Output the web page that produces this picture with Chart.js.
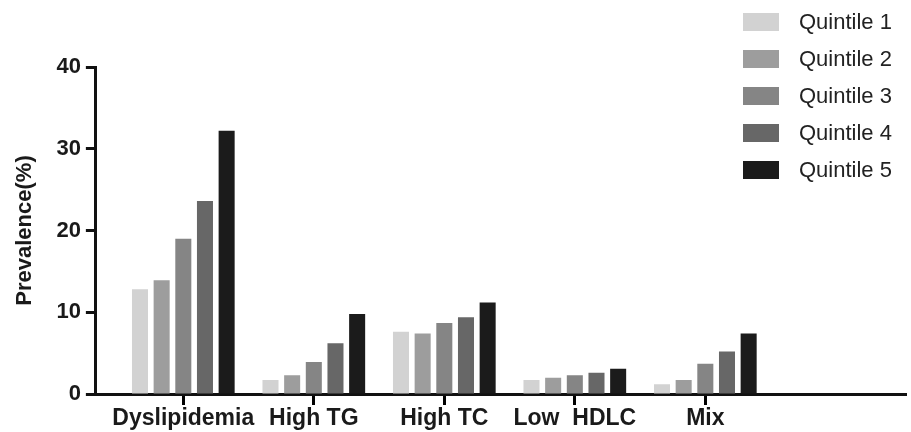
<!DOCTYPE html>
<html lang="en">
<head>
    <meta charset="UTF-8">
    <title>Prevalence by Quintile</title>
    <script src="https://cdn.jsdelivr.net/npm/chart.js@4.4.1/dist/chart.umd.min.js"></script>
    <style>
        * {
            margin: 0;
            padding: 0;
            box-sizing: border-box;
        }

        body {
            background: #fff;
            font-family: 'Liberation Sans', Arial, sans-serif;
        }

        .wrap {
            position: relative;
            width: 911px;
            height: 432px;
        }

        .legend {
            position: absolute;
            left: 743px;
            top: 3px;
        }

        .legend-item {
            display: flex;
            align-items: center;
            height: 37px;
        }

        .legend-box {
            width: 36px;
            height: 18px;
            margin-right: 20px;
        }

        .legend-text {
            font-size: 22px;
            color: #222;
        }
    </style>
</head>
<body>
    <div class="wrap">
        <canvas id="chart"></canvas>
        <div class="legend" id="legend"></div>
    </div>

    <script>
        // Data
        const categories = ['Dyslipidemia', 'High TG', 'High TC', 'Low  HDLC', 'Mix'];
        const seriesNames = ['Quintile 1', 'Quintile 2', 'Quintile 3', 'Quintile 4', 'Quintile 5'];
        const quintile1 = [12.8, 1.7, 7.6, 1.7, 1.2];
        const quintile2 = [13.9, 2.3, 7.4, 2.0, 1.7];
        const quintile3 = [19.0, 3.9, 8.7, 2.3, 3.7];
        const quintile4 = [23.6, 6.2, 9.4, 2.6, 5.2];
        const quintile5 = [32.2, 9.8, 11.2, 3.1, 7.4];
        const yTicks = [0, 10, 20, 30, 40];

        const colors = ['#d2d2d2', '#9d9d9d', '#858585', '#676767', '#1b1b1b'];
        const values = [quintile1, quintile2, quintile3, quintile4, quintile5];

        // groups sit at index positions on a linear axis; the axis runs on
        // past the last group like in the original
        const chart = new Chart(document.getElementById('chart'), {
            type: 'bar',
            data: {
                datasets: seriesNames.map((name, i) => ({
                    label: name,
                    data: values[i].map((v, j) => ({ x: j, y: v })),
                    backgroundColor: colors[i],
                    borderWidth: 0,
                    categoryPercentage: 0.83,
                    barPercentage: 0.74
                }))
            },
            options: {
                responsive: true,
                maintainAspectRatio: false,
                animation: false,
                layout: {
                    padding: { top: 67, right: 6, bottom: 0, left: 0 }
                },
                plugins: {
                    legend: { display: false },
                    tooltip: { enabled: false }
                },
                scales: {
                    x: {
                        type: 'linear',
                        offset: false,
                        min: -0.67,
                        max: 5.53,
                        afterBuildTicks(scale) {
                            scale.ticks = categories.map((c, i) => ({ value: i }));
                        },
                        grid: {
                            display: true,
                            offset: false,
                            drawOnChartArea: false,
                            drawTicks: true,
                            lineWidth: 3,
                            color: '#000',
                            tickLength: 11,
                            tickWidth: 3,
                            tickColor: '#000'
                        },
                        border: { display: true, color: '#111', width: 3 },
                        ticks: {
                            color: '#1a1a1a',
                            padding: 2,
                            maxRotation: 0,
                            minRotation: 0,
                            autoSkip: false,
                            callback: v => categories[v],
                            font: { family: 'Liberation Sans', size: 23, weight: 'bold', lineHeight: 1 }
                        }
                    },
                    y: {
                        min: 0,
                        max: 40,
                        afterBuildTicks(scale) {
                            scale.ticks = yTicks.map(v => ({ value: v }));
                        },
                        grid: {
                            drawOnChartArea: false,
                            drawTicks: true,
                            tickLength: 10,
                            tickWidth: 3,
                            tickColor: '#111'
                        },
                        border: { display: true, color: '#111', width: 3 },
                        ticks: {
                            color: '#1a1a1a',
                            padding: 5,
                            font: { family: 'Liberation Sans', size: 22, weight: 'bold' }
                        },
                        title: {
                            display: true,
                            text: 'Prevalence(%)',
                            color: '#1a1a1a',
                            padding: { top: 12, bottom: 13 },
                            font: { family: 'Liberation Sans', size: 22, weight: 'bold' }
                        }
                    }
                }
            }
        });

        // legend built from the chart's datasets
        const legend = document.getElementById('legend');
        chart.data.datasets.forEach(ds => {
            const item = document.createElement('div');
            item.className = 'legend-item';
            const box = document.createElement('span');
            box.className = 'legend-box';
            box.style.background = ds.backgroundColor;
            const text = document.createElement('span');
            text.className = 'legend-text';
            text.textContent = ds.label;
            item.appendChild(box);
            item.appendChild(text);
            legend.appendChild(item);
        });
    </script>
</body>
</html>
